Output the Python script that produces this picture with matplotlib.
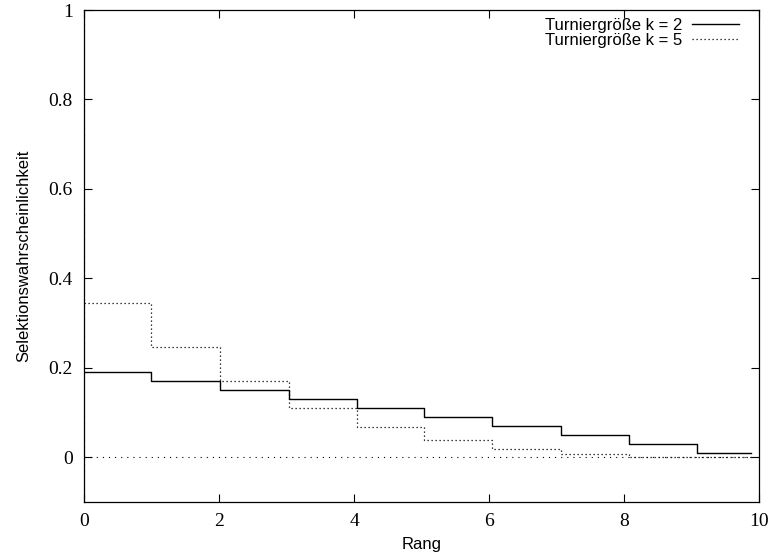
import matplotlib
matplotlib.use("Agg")
import matplotlib.pyplot as plt

# step edges along the rank axis (last entry closes the final step)
rang = [0, 1.0, 2.01, 3.03, 4.04, 5.04, 6.05, 7.06, 8.07, 9.08, 9.88]
p_k2 = [0.19, 0.17, 0.15, 0.13, 0.11, 0.09, 0.07, 0.05, 0.03, 0.01]
p_k5 = [0.344, 0.247, 0.170, 0.111, 0.067, 0.038, 0.018, 0.007, 0.001, 0.0]

labels = ["Turniergröße k = 2", "Turniergröße k = 5"]
xticks = [0, 2, 4, 6, 8, 10]
yticks = [0, 0.2, 0.4, 0.6, 0.8, 1]

fig = plt.figure(figsize=(7.7, 5.56), dpi=100)
ax = fig.add_axes([0.109, 0.097, 0.877, 0.885])

# zero axes, dotted like gnuplot's xzeroaxis/yzeroaxis
ax.axhline(0, color="black", lw=0.8, ls=(0, (1, 4.5)), zorder=1)
ax.axvline(0, color="black", lw=0.8, ls=(0, (1, 4.5)), zorder=1)

ax.plot(rang, p_k2 + [p_k2[-1]], drawstyle="steps-post", color="black",
        lw=1.0, label=labels[0])
ax.plot(rang, p_k5 + [p_k5[-1]], drawstyle="steps-post", color="black",
        lw=0.9, ls=(0, (1, 2.2)), label=labels[1])

ax.set_xlim(0, 10)
ax.set_ylim(-0.1, 1)
ax.set_xticks(xticks)
ax.set_yticks(yticks)
serif = {"family": "Liberation Serif", "size": 14}
ax.set_xticklabels([str(t) for t in xticks], fontdict=serif)
ax.set_yticklabels(["0", "0.2", "0.4", "0.6", "0.8", "1"], fontdict=serif)
ax.tick_params(direction="in", length=6, width=0.8, top=True, right=True,
               pad=8)
for s in ax.spines.values():
    s.set_linewidth(0.9)

ax.set_xlabel("Rang", fontfamily="Liberation Sans", fontsize=12, labelpad=5)
ax.set_ylabel("Selektionswahrscheinlichkeit", fontfamily="Liberation Sans",
              fontsize=12, labelpad=12)

ax.legend(loc="upper right", bbox_to_anchor=(0.981, 1.0), frameon=False,
          markerfirst=False, prop={"family": "Liberation Sans", "size": 12},
          handlelength=2.8, handletextpad=0.6, labelspacing=0.0,
          borderaxespad=0.45, borderpad=0.0)

fig.savefig("out.png", dpi=100)
